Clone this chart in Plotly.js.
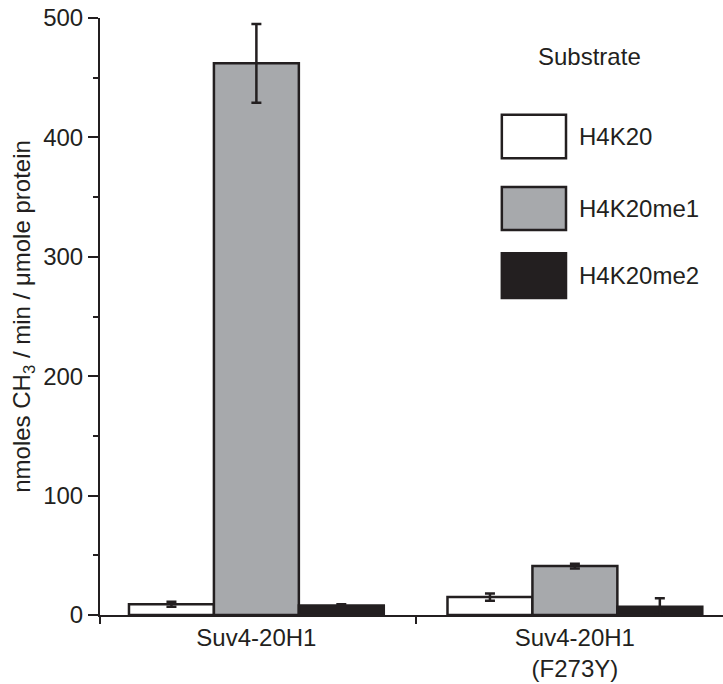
<!DOCTYPE html>
<html>
<head>
<meta charset="utf-8">
<script src="https://cdn.plot.ly/plotly-3.0.1.min.js"></script>
<style>html,body{margin:0;padding:0;background:#fff;}#chart{width:723px;height:684px;}</style>
</head>
<body>
<div id="chart"></div>
<script>
// Data
const groupPositions = [0, 1];
const groupLabels = ['Suv4-20H1', 'Suv4-20H1<br>(F273Y)'];
const seriesNames = ['H4K20', 'H4K20me1', 'H4K20me2'];
const h4k20 = [9, 15];
const h4k20Err = [2, 3];
const h4k20me1 = [462, 41];
const h4k20me1Err = [33, 2];
const h4k20me2 = [8, 7];
const h4k20me2Err = [1, 7];
const seriesColors = ['#ffffff', '#a7a9ac', '#231f20'];
const legendTitle = 'Substrate';
const yTickVals = [0, 100, 200, 300, 400, 500];

const ink = '#231f20';
const font = {family: 'Liberation Sans, Arial, sans-serif', color: ink, size: 24};

const values = [h4k20, h4k20me1, h4k20me2];
const errs = [h4k20Err, h4k20me1Err, h4k20me2Err];
const traces = seriesNames.map((n, i) => ({
  type: 'bar', name: n, x: groupPositions, y: values[i],
  marker: {color: seriesColors[i], line: {color: ink, width: 2.5}},
  error_y: {type: 'data', array: errs[i], visible: true, thickness: 2.5, width: 5, color: ink},
  showlegend: false, hoverinfo: 'none'
}));

const xr = [-0.491, 1.465];
// Manual large legend
const shapes = [];
const annotations = [{
  text: legendTitle, xref: 'paper', yref: 'paper', x: 0.785, y: 0.935,
  showarrow: false, xanchor: 'center', yanchor: 'middle', font: font
}];
const boxY = [[0.765, 0.838], [0.645, 0.717], [0.531, 0.606]];
seriesNames.forEach((n, i) => {
  shapes.push({type: 'rect', xref: 'paper', yref: 'paper', x0: 0.645, x1: 0.748,
    y0: boxY[i][0], y1: boxY[i][1], fillcolor: seriesColors[i], line: {color: ink, width: 2.5}});
  annotations.push({text: n, xref: 'paper', yref: 'paper', x: 0.766, y: (boxY[i][0] + boxY[i][1]) / 2,
    showarrow: false, xanchor: 'left', yanchor: 'middle', font: font});
});

const layout = {
  width: 723, height: 684,
  margin: {l: 100, r: 0, t: 18, b: 69},
  paper_bgcolor: '#fff', plot_bgcolor: 'rgba(0,0,0,0)',
  font: font,
  barmode: 'group', bargap: 0.2, bargroupgap: 0,
  xaxis: {
    range: xr, tickvals: groupPositions, ticktext: groupLabels, ticks: '',
    showline: true, linewidth: 2, linecolor: ink, zeroline: false, showgrid: false,
    tickfont: font, fixedrange: true
  },
  xaxis2: {
    overlaying: 'x', anchor: 'y', side: 'bottom', range: xr, tickvals: [xr[0], 0.5],
    ticks: 'outside', ticklen: 8, tickwidth: 2, tickcolor: ink, showticklabels: false,
    showline: false, showgrid: false, zeroline: false
  },
  yaxis: {
    range: [0, 500], tickvals: yTickVals, ticks: 'outside', ticklen: 10, tickwidth: 2, tickcolor: ink,
    minor: {dtick: 50, ticks: 'outside', ticklen: 5, tickwidth: 2, tickcolor: ink, showgrid: false},
    showline: true, linewidth: 2, linecolor: ink, zeroline: false, showgrid: false,
    tickfont: font,
    title: {text: 'nmoles CH<sub>3</sub> / min / μmole protein', font: font, standoff: 6}
  },
  shapes: shapes, annotations: annotations
};

traces.push({type: 'scatter', x: [], y: [], xaxis: 'x2', yaxis: 'y', showlegend: false, hoverinfo: 'none'});

Plotly.newPlot('chart', traces, layout, {displayModeBar: false, staticPlot: true});
</script>
</body>
</html>
